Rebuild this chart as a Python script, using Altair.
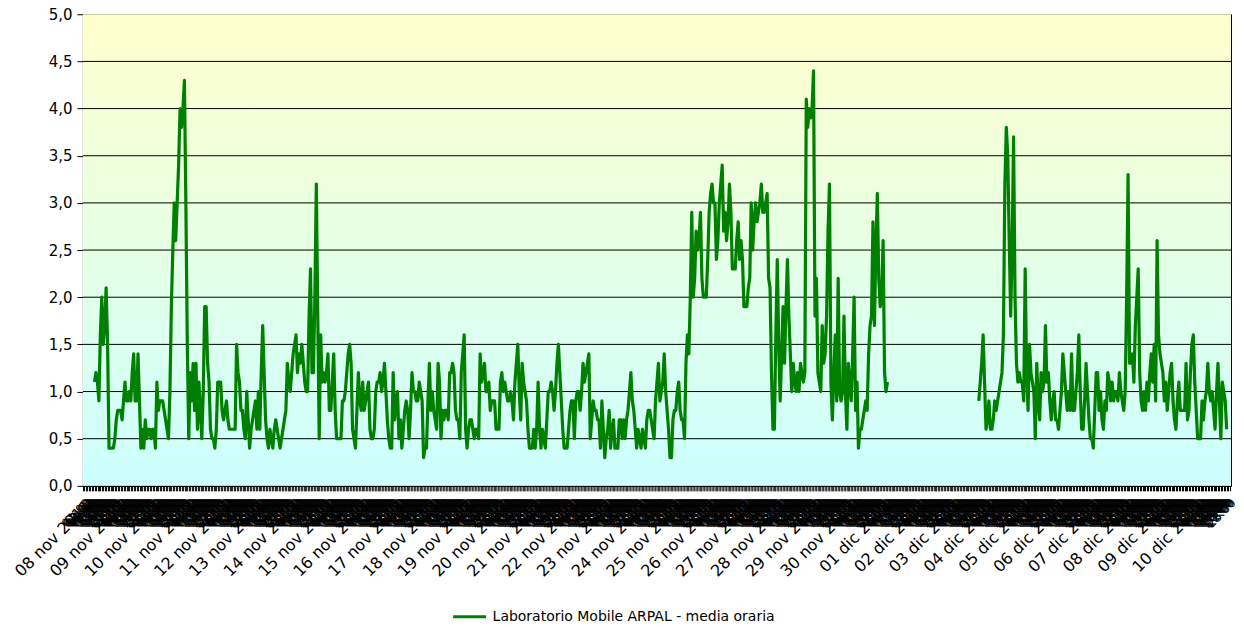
import altair as alt
import pandas as pd

series_name = "Laboratorio Mobile ARPAL - media oraria"

day_labels = [
    "08 nov 2011", "09 nov 2011", "10 nov 2011", "11 nov 2011", "12 nov 2011",
    "13 nov 2011", "14 nov 2011", "15 nov 2011", "16 nov 2011", "17 nov 2011",
    "18 nov 2011", "19 nov 2011", "20 nov 2011", "21 nov 2011", "22 nov 2011",
    "23 nov 2011", "24 nov 2011", "25 nov 2011", "26 nov 2011", "27 nov 2011",
    "28 nov 2011", "29 nov 2011", "30 nov 2011", "01 dic 2011", "02 dic 2011",
    "03 dic 2011", "04 dic 2011", "05 dic 2011", "06 dic 2011", "07 dic 2011",
    "08 dic 2011", "09 dic 2011", "10 dic 2011",
]

y_ticks = [0, 0.5, 1, 1.5, 2, 2.5, 3, 3.5, 4, 4.5, 5]

N = None
# hourly means, one row per day (00:00 ... 23:00)
hourly_values = [
    N, N, N, N, N, N, N, N, 1.1, 1.2, 1.1, 0.9, 1.6, 2.0, 1.5, 1.7, 2.1, 1.5, 0.4, 0.4, 0.4, 0.4, 0.5, 0.7,
    0.8, 0.8, 0.8, 0.7, 0.9, 1.1, 0.9, 0.9, 1.0, 0.9, 1.2, 1.4, 0.9, 0.9, 1.4, 0.9, 0.4, 0.6, 0.4, 0.7, 0.5, 0.6, 0.6, 0.5,
    0.6, 0.6, 0.4, 1.1, 0.8, 0.9, 0.9, 0.9, 0.8, 0.7, 0.6, 0.5, 1.0, 1.9, 2.5, 3.0, 2.6, 3.0, 3.4, 4.0, 3.8, 4.0, 4.3, 3.0,
    1.5, 0.5, 1.2, 0.9, 1.3, 0.8, 1.3, 0.6, 1.1, 0.8, 0.5, 1.0, 1.9, 1.9, 1.3, 1.1, 0.6, 0.5, 0.5, 0.4, 0.6, 1.1, 1.1, 1.1,
    0.8, 0.7, 0.8, 0.9, 0.7, 0.6, 0.6, 0.6, 0.6, 0.6, 1.5, 1.2, 1.1, 0.8, 0.8, 0.6, 0.5, 1.0, 0.7, 0.4, 0.6, 0.7, 0.8, 0.9,
    0.6, 1.0, 0.6, 1.2, 1.7, 1.2, 0.7, 0.5, 0.4, 0.6, 0.5, 0.4, 0.6, 0.7, 0.6, 0.5, 0.4, 0.5, 0.6, 0.7, 0.8, 1.3, 1.1, 1.0,
    1.2, 1.4, 1.5, 1.6, 1.2, 1.4, 1.3, 1.5, 1.3, 1.1, 1.0, 1.0, 1.8, 2.3, 1.2, 1.2, 2.0, 3.2, 1.8, 0.5, 1.6, 1.1, 1.2, 1.1,
    1.2, 1.4, 0.8, 0.8, 1.1, 1.4, 0.8, 0.5, 0.5, 0.5, 0.5, 0.9, 0.9, 1.0, 1.2, 1.4, 1.5, 1.3, 0.6, 0.5, 0.4, 0.8, 1.2, 0.9,
    0.8, 1.1, 0.8, 0.9, 1.0, 1.1, 0.6, 0.5, 0.5, 0.6, 1.0, 1.1, 1.1, 1.2, 1.0, 1.1, 1.3, 1.0, 0.7, 0.5, 0.4, 0.4, 1.2, 0.7,
    0.9, 1.0, 0.5, 0.7, 0.4, 0.6, 0.8, 0.9, 0.8, 0.5, 0.8, 1.2, 1.0, 1.0, 0.9, 0.9, 1.1, 1.0, 0.9, 0.3, 0.4, 0.4, 0.9, 1.3,
    0.8, 1.0, 0.8, 0.7, 0.6, 1.3, 1.1, 0.5, 0.8, 0.7, 0.8, 0.8, 0.7, 1.2, 1.2, 1.3, 1.2, 0.8, 0.7, 0.7, 0.5, 1.2, 1.4, 1.6,
    0.6, 0.4, 0.6, 0.7, 0.7, 0.6, 0.5, 0.6, 0.6, 0.5, 1.4, 1.1, 1.2, 1.3, 1.0, 1.0, 1.1, 0.8, 0.9, 0.9, 0.9, 0.6, 0.6, 0.6,
    1.1, 1.2, 1.0, 1.1, 1.0, 0.9, 0.9, 1.0, 0.9, 0.7, 1.1, 1.3, 1.5, 1.0, 0.7, 1.3, 1.1, 1.0, 0.9, 0.6, 0.4, 0.4, 0.4, 0.6,
    0.4, 0.6, 1.1, 0.6, 0.4, 0.6, 0.5, 0.4, 0.7, 1.0, 1.0, 1.1, 1.0, 0.8, 1.0, 1.3, 1.5, 1.2, 0.9, 0.6, 0.4, 0.4, 0.4, 0.6,
    0.8, 0.9, 0.9, 0.5, 0.9, 1.0, 1.0, 0.8, 1.0, 1.3, 1.1, 1.2, 1.3, 1.4, 0.5, 0.7, 0.9, 0.8, 0.8, 0.7, 0.7, 0.4, 0.9, 0.6,
    0.3, 0.5, 0.6, 0.8, 0.4, 0.6, 0.7, 0.4, 0.4, 0.4, 0.7, 0.7, 0.5, 0.7, 0.5, 0.7, 0.8, 1.0, 1.2, 0.9, 0.8, 0.6, 0.4, 0.6,
    0.5, 0.4, 0.6, 0.5, 0.4, 0.7, 0.8, 0.8, 0.7, 0.6, 0.5, 0.9, 1.1, 1.3, 0.9, 1.0, 1.1, 1.4, 1.0, 0.8, 0.6, 0.3, 0.3, 0.7,
    0.8, 0.8, 1.0, 1.1, 0.8, 0.7, 0.7, 0.5, 1.3, 1.6, 1.4, 2.0, 2.9, 2.0, 2.2, 2.7, 2.5, 2.6, 2.9, 2.2, 2.0, 2.0, 2.0, 2.4,
    2.9, 3.1, 3.2, 3.0, 3.0, 2.4, 2.6, 3.0, 3.2, 3.4, 2.7, 2.9, 2.6, 2.8, 3.2, 2.9, 2.3, 2.3, 2.3, 2.6, 2.8, 2.4, 2.6, 2.4,
    1.9, 1.9, 1.9, 2.1, 2.2, 3.0, 2.5, 2.8, 3.0, 2.8, 2.9, 3.0, 3.2, 2.9, 2.9, 3.0, 3.1, 2.2, 2.1, 1.2, 0.6, 0.6, 1.6, 2.4,
    1.5, 0.9, 1.4, 1.9, 1.3, 1.9, 2.4, 1.8, 1.4, 1.0, 1.3, 1.1, 1.0, 1.2, 1.0, 1.3, 1.2, 1.1, 1.2, 4.1, 3.8, 4.0, 3.9, 4.0,
    4.4, 1.8, 2.2, 1.2, 1.1, 1.0, 1.7, 1.3, 1.4, 1.8, 2.7, 3.2, 1.1, 0.7, 1.2, 1.6, 0.9, 2.2, 1.0, 0.9, 1.0, 1.8, 1.0, 0.6,
    1.3, 1.1, 0.9, 1.4, 2.0, 0.8, 1.1, 0.4, 0.6, 0.6, 0.7, 0.8, 0.9, 0.8, 1.4, 1.7, 1.8, 2.8, 1.7, 2.5, 3.1, 2.2, 1.9, 2.0,
    2.6, 1.2, 1.0, 1.1, N, N, N, N, N, N, N, N, N, N, N, N, N, N, N, N, N, N, N, N,
    N, N, N, N, N, N, N, N, N, N, N, N, N, N, N, N, N, N, N, N, N, N, N, N,
    N, N, N, N, N, N, N, N, N, N, N, N, N, N, N, N, N, N, 0.9, 1.1, 1.3, 1.6, 1.1, 0.6,
    0.7, 0.9, 0.6, 0.6, 0.7, 0.9, 0.8, 0.9, 1.0, 1.1, 1.2, 1.6, 3.2, 3.8, 3.5, 2.6, 1.8, 2.5, 3.7, 2.0, 1.3, 1.1, 1.2, 1.1,
    1.1, 0.9, 2.3, 1.2, 0.8, 1.5, 1.2, 1.1, 1.0, 0.5, 1.3, 0.9, 0.7, 1.2, 1.0, 1.1, 1.7, 1.1, 1.2, 0.9, 0.7, 0.9, 1.0, 0.7,
    0.7, 0.6, 0.8, 1.0, 1.4, 1.2, 1.0, 0.8, 1.0, 0.8, 1.4, 0.8, 0.8, 1.0, 1.2, 1.6, 1.0, 0.6, 0.6, 0.9, 1.3, 1.0, 0.7, 0.5,
    0.5, 0.4, 0.8, 1.2, 1.2, 0.8, 1.0, 0.7, 0.6, 0.9, 0.8, 1.2, 1.1, 0.9, 1.1, 0.9, 1.0, 1.0, 0.9, 1.2, 1.0, 0.9, 0.8, 1.0,
    2.0, 3.3, 1.3, 1.3, 1.4, 1.1, 1.7, 2.0, 2.3, 1.2, 0.9, 0.8, 1.0, 0.8, 1.1, 0.9, 1.2, 1.4, 1.1, 1.5, 0.9, 2.6, 1.6, 1.4,
    1.3, 1.2, 0.9, 1.1, 0.8, 1.0, 1.2, 1.3, 0.9, 0.7, 0.6, 0.9, 1.1, 0.8, 0.8, 0.8, 0.8, 1.3, 0.7, 0.8, 1.2, 1.5, 1.6, 1.1,
    0.8, 0.5, 0.5, 0.5, 0.9, 0.7, 0.9, 1.0, 1.3, 1.0, 0.9, 1.0, 0.8, 0.6, 1.0, 1.3, 0.9, 0.5, 1.1, 1.0, 0.9, 0.6, N, N,
]

n_hours = len(day_labels) * 24

rows = []
segment = 0
gap = True
for h, v in enumerate(hourly_values):
    if v is None:
        gap = True
        continue
    if gap:
        segment += 1
        gap = False
    rows.append({"hour": h, "value": v, "segment": segment, "serie": series_name})
df = pd.DataFrame(rows)

bg_df = pd.DataFrame({"hour": [0], "hour_end": [n_hours], "value": [0], "value_end": [5]})
grid_df = pd.DataFrame({"value": y_ticks[1:-1]})

FONT = "DejaVu Sans"
labels_js = "[" + ",".join("'" + s + "'" for s in day_labels) + "]"
label_expr = (
    "datum.value % 24 == 0 ? " + labels_js + "[floor(datum.value / 24)] : "
    "((datum.value % 24) < 10 ? '0' : '') + (datum.value % 24) + ':00'"
)

x_scale = alt.Scale(domain=[0, n_hours], nice=False, zero=False)
y_scale = alt.Scale(domain=[0, 5], nice=False)

x_axis = alt.Axis(
    title=None,
    values=list(range(0, n_hours)),
    labelExpr=label_expr,
    labelAngle=-45,
    labelAlign="right",
    labelBaseline="top",
    labelOverlap=False,
    labelFlush=False,
    labelBound=False,
    labelPadding=6,
    labelFont=FONT,
    labelFontSize={"condition": {"test": "datum.value % 24 == 0", "value": 16}, "value": 12},
    labelColor="black",
    tickColor="black",
    tickSize=5,
    domainColor="black",
    domainWidth=1.5,
    grid=False,
)
y_axis = alt.Axis(
    title=None,
    values=y_ticks,
    labelExpr="replace(format(datum.value, '.1f'), '.', ',')",
    labelFont=FONT,
    labelFontSize=15,
    labelColor="black",
    labelPadding=5,
    tickColor="black",
    tickSize=6,
    domainColor="black",
    grid=False,
)

background = alt.Chart(bg_df).mark_rect(
    color=alt.Gradient(
        gradient="linear",
        stops=[
            alt.GradientStop(color="#FFFFCC", offset=0),
            alt.GradientStop(color="#CCFFFF", offset=1),
        ],
        x1=0, x2=0, y1=0, y2=1,
    )
).encode(
    x=alt.X("hour:Q", scale=x_scale, axis=x_axis),
    x2="hour_end",
    y=alt.Y("value:Q", scale=y_scale, axis=y_axis),
    y2="value_end",
)

grid = alt.Chart(grid_df).mark_rule(color="black", strokeWidth=1).encode(
    y=alt.Y("value:Q", scale=y_scale, axis=y_axis),
)

line = alt.Chart(df).mark_line(strokeWidth=3.2, strokeJoin="round").encode(
    x=alt.X("hour:Q", scale=x_scale, axis=x_axis),
    y=alt.Y("value:Q", scale=y_scale, axis=y_axis),
    detail="segment:N",
    color=alt.Color(
        "serie:N",
        scale=alt.Scale(domain=[series_name], range=["#008000"]),
        legend=alt.Legend(
            title=None,
            orient="none",
            legendX=369,
            legendY=585,
            symbolType="stroke",
            symbolStrokeWidth=3,
            symbolSize=1089,
            labelFont=FONT,
            labelFontSize=14,
            labelLimit=600,
            labelColor="black",
            labelOffset=5,
        ),
    ),
)

chart = alt.layer(background, grid, line).properties(
    width=1149,
    height=472,
    autosize=alt.AutoSizeParams(type="none"),
    padding={"left": 75, "top": 6, "right": 5, "bottom": 137},
).configure_view(stroke="black", strokeWidth=1)

chart.save("out.html", embed_options={"renderer": "svg", "actions": False})
